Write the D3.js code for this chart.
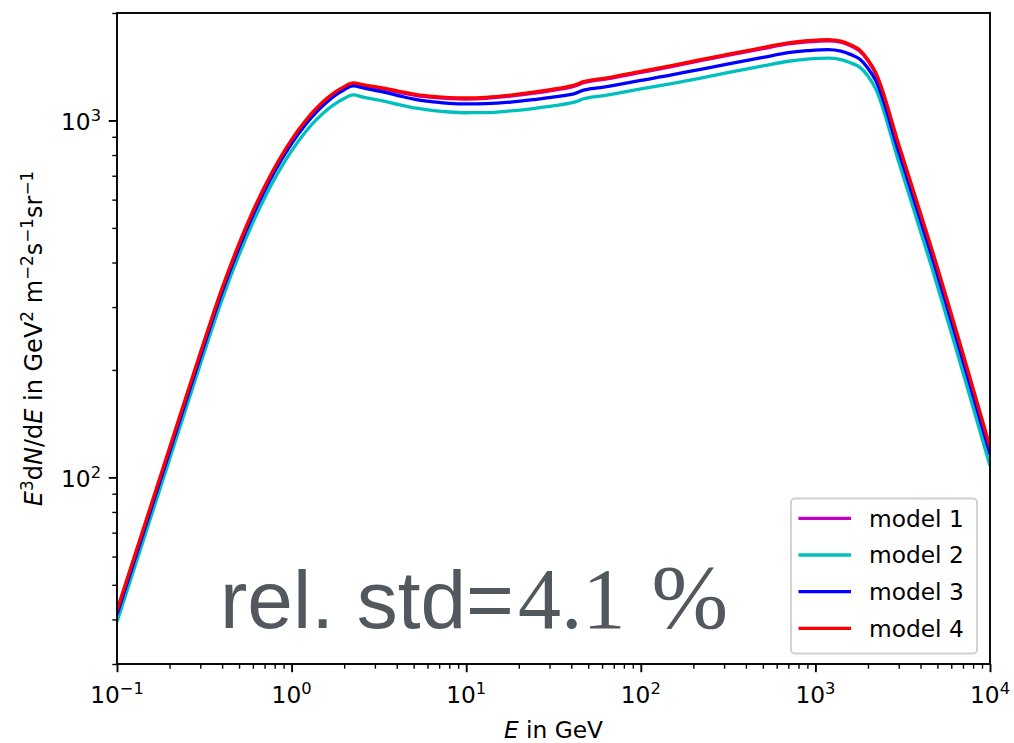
<!DOCTYPE html>
<html>
<head>
<meta charset="utf-8">
<script src="https://cdn.jsdelivr.net/npm/d3@7"></script>
<style>
  html, body { margin: 0; padding: 0; background: #fff; }
  svg { display: block; }
  text { font-family: "DejaVu Sans", sans-serif; }
</style>
</head>
<body>
<svg id="chart" width="1014" height="743"></svg>
<script>
// Energy grid in GeV
const energy = [0.1, 0.2, 0.3, 0.4, 0.5, 0.6, 0.7, 0.8, 1.0, 1.2, 1.4, 1.6, 1.8, 2.0, 2.25, 2.6, 3.37, 4.2, 5.2, 6.5, 8, 10, 13, 18, 24.3, 32, 43, 47, 52, 60, 100, 150, 220, 330, 500, 700, 900, 1180, 1400, 1600, 1800, 2000, 2220, 3000, 4600, 10000];

// E^3 dN/dE for each model (GeV^2 m^-2 s^-1 sr^-1)
const model1 = [42.1, 120.1, 221.4, 336.6, 448.3, 552.6, 647.4, 732.8, 877.8, 991, 1079, 1147, 1198, 1235, 1266, 1249, 1223, 1197, 1174, 1160, 1151, 1148, 1153, 1170, 1192, 1216, 1253, 1276, 1289, 1301, 1363, 1415, 1470, 1529, 1589, 1638, 1660, 1672, 1656, 1616, 1562, 1470, 1349, 850, 439, 120.7];
const model2 = [39.4, 112.4, 207.4, 315.3, 419.9, 517.5, 606.4, 686.3, 822.1, 928.1, 1010, 1072, 1118, 1152, 1179, 1161, 1133, 1105, 1082, 1066, 1056, 1051, 1052, 1064, 1080, 1100, 1131, 1150, 1162, 1172, 1225, 1268, 1314, 1368, 1421, 1465, 1485, 1495, 1481, 1448, 1408, 1332, 1223, 766, 393, 107.7];
const model3 = [41.3, 117.9, 217.4, 330.5, 440.2, 542.6, 635.7, 719.6, 861.9, 973, 1060, 1128, 1181, 1219, 1251, 1232, 1201, 1170, 1144, 1128, 1117, 1113, 1115, 1126, 1144, 1164, 1195, 1216, 1228, 1238, 1295, 1341, 1391, 1445, 1501, 1548, 1568, 1580, 1565, 1529, 1483, 1400, 1291, 817, 422, 116];
const model4 = [42.4, 120.9, 223, 339, 451.5, 556.5, 652, 738, 884, 998, 1087, 1155, 1206, 1244, 1275, 1258, 1232, 1205, 1182, 1168, 1159, 1156, 1161, 1178, 1200, 1225, 1262, 1285, 1298, 1310, 1373, 1425, 1480, 1540, 1600, 1650, 1672, 1684, 1668, 1627, 1573, 1480, 1359, 856, 442, 121.6];

const seriesNames = ["model 1", "model 2", "model 3", "model 4"];
const seriesColors = ["#bf00bf", "#00bfbf", "#0000ff", "#ff0000"];
const seriesValues = [model1, model2, model3, model4];

const xMajorTicks = [0.1, 1, 10, 100, 1000, 10000];
const xMajorExponents = ["\u22121", "0", "1", "2", "3", "4"];
const yMajorTicks = [100, 1000];
const yMajorExponents = ["2", "3"];

const svg = d3.select("#chart");
const plot = { left: 117, right: 990, top: 13, bottom: 664 };

const x = d3.scaleLog().domain([0.1, 1e4]).range([plot.left, plot.right]);
const y = d3.scaleLog().domain([30, 2000]).range([plot.bottom, plot.top]);

svg.append("defs").append("clipPath").attr("id", "plotclip")
  .append("rect")
  .attr("x", plot.left).attr("y", plot.top)
  .attr("width", plot.right - plot.left).attr("height", plot.bottom - plot.top);

// spectra
const line = d3.line()
  .x(d => x(d[0]))
  .y(d => y(d[1]))
  .curve(d3.curveMonotoneX);

const curves = svg.append("g").attr("clip-path", "url(#plotclip)");
seriesValues.forEach((vals, i) => {
  curves.append("path")
    .datum(energy.map((e, k) => [e, vals[k]]))
    .attr("d", line)
    .attr("fill", "none")
    .attr("stroke", seriesColors[i])
    .attr("stroke-width", 3.3)
    .attr("stroke-linejoin", "round")
    .attr("stroke-linecap", "butt");
});

// spread annotation
const ann = svg.append("text")
  .attr("x", 220).attr("y", 628)
  .attr("fill", "#53585e");
ann.append("tspan")
  .style("font-family", "'Liberation Sans', Arial, sans-serif")
  .attr("font-size", 82)
  .text("rel. std=");
ann.append("tspan")
  .style("font-family", "'Liberation Serif', 'DejaVu Serif', serif")
  .attr("font-size", 86)
  .attr("dx", 4)
  .text("4.1");
ann.append("tspan")
  .style("font-family", "'Liberation Serif', 'DejaVu Serif', serif")
  .attr("font-size", 92)
  .attr("dx", 26)
  .text("%");

// log axes
const minorX = [];
for (let d = -1; d < 4; d++) for (let m = 2; m <= 9; m++) minorX.push(m * Math.pow(10, d));
const minorY = [];
for (let d = 1; d < 4; d++) for (let m = 2; m <= 9; m++) {
  const v = m * Math.pow(10, d);
  if (v >= 30 && v <= 2000) minorY.push(v);
}

const xAxis = d3.axisBottom(x).tickValues(xMajorTicks).tickSize(8.2).tickFormat("");
const xAxisMinor = d3.axisBottom(x).tickValues(minorX).tickSize(4.7).tickFormat("");
const yAxis = d3.axisLeft(y).tickValues(yMajorTicks).tickSize(8.2).tickFormat("");
const yAxisMinor = d3.axisLeft(y).tickValues(minorY).tickSize(4.7).tickFormat("");

const gx = svg.append("g").attr("transform", `translate(0,${plot.bottom})`).call(xAxis);
const gxm = svg.append("g").attr("transform", `translate(0,${plot.bottom})`).call(xAxisMinor);
const gy = svg.append("g").attr("transform", `translate(${plot.left},0)`).call(yAxis);
const gym = svg.append("g").attr("transform", `translate(${plot.left},0)`).call(yAxisMinor);
[gx, gy].forEach(g => {
  g.select(".domain").remove();
  g.selectAll(".tick line").attr("stroke", "#000").attr("stroke-width", 1.9);
});
[gxm, gym].forEach(g => {
  g.select(".domain").remove();
  g.selectAll(".tick line").attr("stroke", "#000").attr("stroke-width", 1.4);
});

// tick labels as powers of ten
xMajorTicks.forEach((v, i) => {
  const t = svg.append("text")
    .attr("x", x(v)).attr("y", 702.5)
    .attr("text-anchor", "middle")
    .attr("font-size", 23.3)
    .attr("fill", "#000");
  t.append("tspan").text("10");
  t.append("tspan").attr("font-size", 16.3).attr("dy", -8.5).text(xMajorExponents[i]);
});
yMajorTicks.forEach((v, i) => {
  const t = svg.append("text")
    .attr("x", plot.left - 16).attr("y", y(v) + 9.5)
    .attr("text-anchor", "end")
    .attr("font-size", 23.3)
    .attr("fill", "#000");
  t.append("tspan").text("10");
  t.append("tspan").attr("font-size", 16.3).attr("dy", -9).text(yMajorExponents[i]);
});

// frame
svg.append("rect")
  .attr("x", plot.left).attr("y", plot.top)
  .attr("width", plot.right - plot.left).attr("height", plot.bottom - plot.top)
  .attr("fill", "none").attr("stroke", "#000").attr("stroke-width", 1.9);

// axis titles
const xt = svg.append("text")
  .attr("x", (plot.left + plot.right) / 2).attr("y", 737.5)
  .attr("text-anchor", "middle").attr("font-size", 23.3);
xt.append("tspan").attr("font-style", "italic").text("E");
xt.append("tspan").text(" in GeV");

const yt = svg.append("text")
  .attr("transform", `translate(42,${(plot.top + plot.bottom) / 2}) rotate(-90)`)
  .attr("text-anchor", "middle").attr("font-size", 24);
const sup = (txt) => {
  yt.append("tspan").attr("font-size", 16.8).attr("dy", -9).text(txt);
};
const norm = (txt) => {
  yt.append("tspan").attr("dy", 9).text(txt);
};
yt.append("tspan").attr("font-style", "italic").text("E");
sup("3");
norm("d");
yt.append("tspan").attr("font-style", "italic").text("N");
yt.append("tspan").text("/d");
yt.append("tspan").attr("font-style", "italic").text("E");
yt.append("tspan").text(" in GeV");
sup("2");
norm(" m");
sup("\u22122");
norm("s");
sup("\u22121");
norm("sr");
sup("\u22121");

// legend
const legend = svg.append("g");
legend.append("rect")
  .attr("x", 791).attr("y", 498.5)
  .attr("width", 186).attr("height", 155)
  .attr("rx", 4).attr("ry", 4)
  .attr("fill", "#fff").attr("fill-opacity", 0.8)
  .attr("stroke", "#d0d0d0").attr("stroke-width", 1.9);
seriesNames.forEach((name, i) => {
  const cy = 518.3 + i * 36.7;
  legend.append("line")
    .attr("x1", 798.5).attr("x2", 851)
    .attr("y1", cy).attr("y2", cy)
    .attr("stroke", seriesColors[i]).attr("stroke-width", 3.3);
  legend.append("text")
    .attr("x", 869).attr("y", cy + 8.3)
    .attr("font-size", 23.3)
    .text(name);
});
</script>
</body>
</html>
